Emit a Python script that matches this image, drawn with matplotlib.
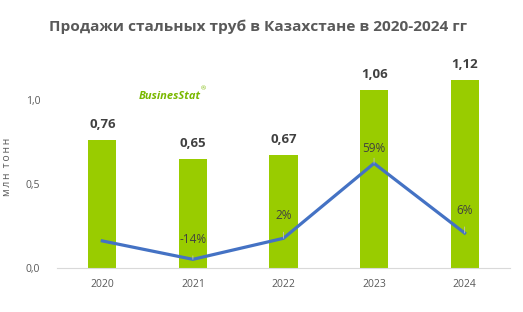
import matplotlib
matplotlib.use("Agg")
import matplotlib.pyplot as plt

years = ["2020", "2021", "2022", "2023", "2024"]
sales = [0.76, 0.65, 0.67, 1.06, 1.12]
sales_labels = ["0,76", "0,65", "0,67", "1,06", "1,12"]
growth = [0, -14, 2, 59, 6]
growth_labels = ["", "-14%", "2%", "59%", "6%"]
yticks = [0.0, 0.5, 1.0]
ytick_labels = ["0,0", "0,5", "1,0"]

plt.rcParams['font.family'] = ['Open Sans', 'DejaVu Sans']

fig = plt.figure(figsize=(5.23, 3.12), dpi=100)
ax = fig.add_axes([0.109, 0.141, 0.866, 0.646])
x = list(range(len(years)))
ax.bar(x, sales, width=0.31, color="#99cc00", zorder=2)
ax.set_xlim(-0.5, 4.5)
ax.set_ylim(0, 1.2)
ax.set_yticks(yticks)
ax.set_yticklabels(ytick_labels)
ax.set_xticks(x)
ax.set_xticklabels(years)
ax.tick_params(length=0, labelsize=7.5, colors="#595959")
ax.tick_params(axis='y', pad=12)
ax.tick_params(axis='x', pad=8)
for s in ["top", "right", "left"]:
    ax.spines[s].set_visible(False)
ax.spines["bottom"].set_color("#d9d9d9")
ax.set_ylabel("\u2009".join("млн") + "\u2009\u2009\u2009" + "\u2009".join("тонн"),
              fontsize=7.5, color="#595959", labelpad=9)

for xi, v, lab in zip(x, sales, sales_labels):
    ax.text(xi, v + 0.055, lab, ha="center", va="bottom", fontsize=9.5,
            fontweight="bold", color="#404040")

ax2 = ax.twinx()
ax2.set_ylim(-20.6, 132.7)
ax2.axis("off")
ax2.plot(x, growth, color="#4472c4", lw=2.3, zorder=3)
offsets = [0, 15, 17, 11, 17]
for xi, g, lab, off in zip(x, growth, growth_labels, offsets):
    if lab:
        ax2.annotate(lab, xy=(xi, g), xytext=(xi, g + off), ha="center",
                     va="center", fontsize=8.5, color="#404040",
                     arrowprops=dict(arrowstyle="-", color="#bfbfbf", lw=0.6,
                                     shrinkA=5, shrinkB=0))

fig.text(0.493, 0.915, "Продажи стальных труб в Казахстане в 2020-2024 гг",
         ha="center", va="center", fontsize=11.1, fontweight="bold", color="#595959")

fig.text(0.266, 0.69, "BusinesStat", ha="left", va="center", fontsize=8,
         fontweight="bold", fontstyle="italic", color="#7ab800")
fig.text(0.384, 0.716, "®", ha="left", va="center", fontsize=4.5, color="#7ab800")

fig.savefig("out.png", dpi=100)
